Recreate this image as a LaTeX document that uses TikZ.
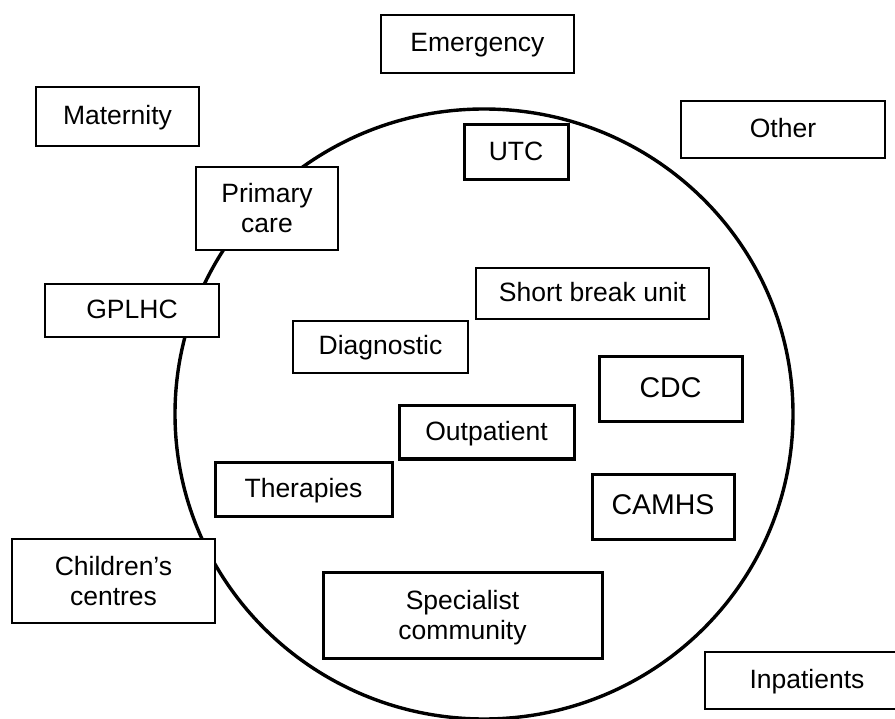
\documentclass[tikz,border=0pt]{standalone}
\usepackage{fontspec}
\setmainfont{Liberation Sans}
\tikzset{
  box/.style={draw=black, fill=white, inner sep=0pt, align=center,
    font=\fontsize{26.5}{30}\selectfont, line width=1.8pt},
  thickbox/.style={box, line width=3pt},
  one/.style={text height=19pt, text depth=3pt},
  big/.style={font=\fontsize{28.5}{32}\selectfont, text height=20.4pt, text depth=3.5pt},
  ring/.style={draw=black, line width=3.4pt}
}
\begin{document}
\begin{tikzpicture}[x=1pt, y=-1pt]
\useasboundingbox (0,0) rectangle (895,719);
\clip (0,0) rectangle (895,719);
\fill[white] (0,0) rectangle (895,719);
\draw[ring] (484,414) ellipse [x radius=309pt, y radius=305pt];

\node[box, one, minimum width=193pt, minimum height=58pt] (emergency) at (477.5,44) {Emergency};
\node[box, one, minimum width=163pt, minimum height=59pt] (maternity) at (117.5,116.5) {Maternity};
\node[box, one, minimum width=204pt, minimum height=57pt] (other) at (783,129.5) {Other};
\node[thickbox, one, minimum width=104pt, minimum height=55pt] (utc) at (516,152.5) {UTC};
\node[box, minimum width=142pt, minimum height=83pt] (primary) at (267,208.5) {Primary\\care};
\node[box, one, minimum width=174pt, minimum height=53pt] (gplhc) at (132,310.5) {GPLHC};
\node[box, one, minimum width=233pt, minimum height=51pt] (shortbreak) at (592.5,293.5) {Short break unit};
\node[box, one, minimum width=175pt, minimum height=52pt] (diagnostic) at (380.5,347) {Diagnostic};
\node[thickbox, big, minimum width=143pt, minimum height=65pt] (cdc) at (670.5,389.5) {CDC};
\node[thickbox, one, minimum width=175pt, minimum height=53pt] (outpatient) at (486.5,432.5) {Outpatient};
\node[thickbox, one, minimum width=177pt, minimum height=54pt] (therapies) at (303.5,489) {Therapies};
\node[thickbox, big, minimum width=142pt, minimum height=65pt] (camhs) at (663,506.5) {CAMHS};
\node[box, minimum width=203pt, minimum height=84pt] (children) at (113.5,581) {Children’s\\centres};
\node[thickbox, minimum width=279pt, minimum height=86pt] (specialist) at (462.5,615) {Specialist\\\smash{community}};
\node[box, one, minimum width=204pt, minimum height=57pt] (inpatients) at (807,680.5) {Inpatients};
\end{tikzpicture}
\end{document}
